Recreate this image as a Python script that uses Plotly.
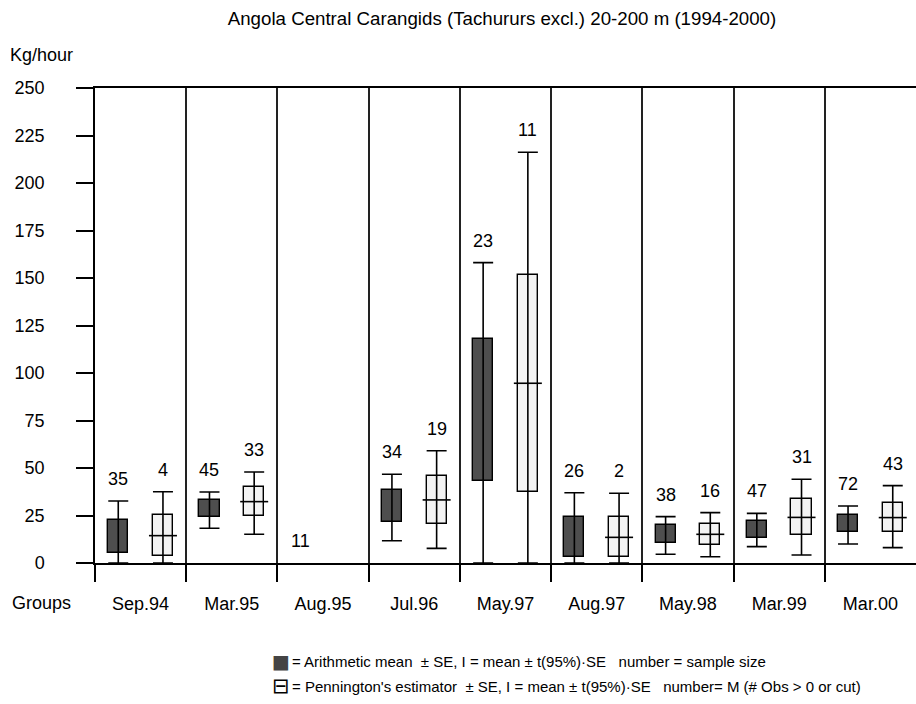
import plotly.graph_objects as go

# Survey groups
groups = ["Sep.94", "Mar.95", "Aug.95", "Jul.96", "May.97", "Aug.97", "May.98", "Mar.99", "Mar.00"]

# Arithmetic mean: mean, SE, 95% interval bounds, sample size
arith_mean = [14.0, 28.6, 0.0, 29.9, 80.5, 13.5, 15.1, 17.8, 20.8]
arith_se = [8.6, 4.6, 0.0, 8.5, 37.3, 10.5, 4.7, 4.5, 4.55]
arith_lo = [0.0, 18.3, 0.0, 11.7, 0.0, 0.0, 4.6, 8.6, 10.0]
arith_hi = [32.6, 37.4, 0.0, 46.7, 158.1, 37.0, 24.4, 26.1, 30.0]
arith_n = [35, 45, 11, 34, 23, 26, 38, 47, 72]

# Pennington's estimator: mean, SE, 95% interval bounds, M
penn_mean = [14.4, 32.3, None, 33.2, 94.6, 13.5, 15.1, 24.0, 23.9]
penn_se = [10.7, 7.55, None, 12.65, 57.0, 10.55, 5.5, 9.45, 7.55]
penn_lo = [0.0, 15.1, None, 7.7, 0.0, 0.0, 3.3, 4.2, 8.1]
penn_hi = [37.5, 47.9, None, 59.1, 216.2, 36.7, 26.5, 44.1, 40.7]
penn_m = [4, 33, None, 19, 11, 2, 16, 31, 43]

y_ticks = [0, 25, 50, 75, 100, 125, 150, 175, 200, 225, 250]

FONT = "Liberation Sans"
OFF = 0.245
BW = 0.22

xs_a = [i - OFF for i in range(len(groups))]
xs_p = [i + OFF for i in range(len(groups))]

fig = go.Figure()

# Arithmetic mean: whiskers drawn first, box on top
a_idx = [i for i, s in enumerate(arith_se) if s > 0]
fig.add_trace(go.Scatter(
    x=[xs_a[i] for i in a_idx], y=[arith_mean[i] for i in a_idx], mode="markers",
    marker=dict(size=1, color="black", opacity=0),
    error_y=dict(type="data", symmetric=False,
                 array=[arith_hi[i] - arith_mean[i] for i in a_idx],
                 arrayminus=[arith_mean[i] - arith_lo[i] for i in a_idx],
                 color="black", thickness=1.6, width=10),
    showlegend=False, hoverinfo="skip"))
fig.add_trace(go.Bar(
    x=[xs_a[i] for i in a_idx], y=[2 * arith_se[i] for i in a_idx],
    base=[arith_mean[i] - arith_se[i] for i in a_idx],
    width=BW, marker=dict(color="#4e4e4e", line=dict(color="black", width=1.4)),
    showlegend=False, hoverinfo="skip"))

# Pennington's estimator: box first, whiskers and mean line on top
p_idx = [i for i, v in enumerate(penn_mean) if v is not None]
fig.add_trace(go.Bar(
    x=[xs_p[i] for i in p_idx], y=[2 * penn_se[i] for i in p_idx],
    base=[penn_mean[i] - penn_se[i] for i in p_idx],
    width=BW, marker=dict(color="#f3f3f3", line=dict(color="black", width=1.4)),
    showlegend=False, hoverinfo="skip"))
fig.add_trace(go.Scatter(
    x=[xs_p[i] for i in p_idx], y=[penn_mean[i] for i in p_idx], mode="markers",
    marker=dict(symbol="line-ew", size=20, line=dict(color="black", width=1.6)),
    error_y=dict(type="data", symmetric=False,
                 array=[penn_hi[i] - penn_mean[i] for i in p_idx],
                 arrayminus=[penn_mean[i] - penn_lo[i] for i in p_idx],
                 color="black", thickness=1.6, width=10),
    showlegend=False, hoverinfo="skip"))

annotations = []
for i, n in enumerate(arith_n):
    annotations.append(dict(x=xs_a[i], y=arith_hi[i], text=str(n), showarrow=False,
                            yanchor="middle", yshift=22,
                            font=dict(family=FONT, size=18, color="black")))
for i, m in enumerate(penn_m):
    if m is None:
        continue
    annotations.append(dict(x=xs_p[i], y=penn_hi[i], text=str(m), showarrow=False,
                            yanchor="middle", yshift=22,
                            font=dict(family=FONT, size=18, color="black")))

PW = 821.0
PH = 475.0
def px(x):
    return (x - 95) / PW
def py(y):
    return (563 - y) / PH

annotations += [
    dict(xref="paper", yref="paper", x=px(8), y=py(55), text="Kg/hour",
         xanchor="left", yanchor="middle", showarrow=False,
         font=dict(family=FONT, size=18, color="black")),
    dict(xref="paper", yref="paper", x=px(10), y=py(603), text="Groups",
         xanchor="left", yanchor="middle", showarrow=False,
         font=dict(family=FONT, size=18, color="black")),
    # key symbols
    dict(xref="paper", yref="paper", x=px(281), y=py(661), text="■",
         xanchor="center", yanchor="middle", showarrow=False,
         font=dict(family="DejaVu Sans", size=19, color="#444444")),
    dict(xref="paper", yref="paper", x=px(281), y=py(686), text="⊟",
         xanchor="center", yanchor="middle", showarrow=False,
         font=dict(family="DejaVu Sans", size=21, color="black")),
    # key texts
    dict(xref="paper", yref="paper", x=px(290), y=py(661),
         text="= Arithmetic mean \u00a0± SE, I = mean ± t(95%)·SE \u00a0\u00a0number = sample size",
         xanchor="left", yanchor="middle", showarrow=False,
         font=dict(family=FONT, size=15, color="black")),
    dict(xref="paper", yref="paper", x=px(290), y=py(686),
         text="= Pennington's estimator \u00a0± SE, I = mean ± t(95%)·SE \u00a0\u00a0number= M (# Obs > 0 or cut)",
         xanchor="left", yanchor="middle", showarrow=False,
         font=dict(family=FONT, size=15, color="black")),
]

fig.update_layout(
    width=916, height=704,
    margin=dict(l=95, r=0, t=88, b=141),
    paper_bgcolor="white", plot_bgcolor="white",
    barmode="overlay", bargap=0,
    title=dict(text="Angola Central Carangids (Tachururs excl.) 20-200 m (1994-2000)",
               x=502 / 916, xanchor="center", xref="container",
               y=1 - 18 / 704, yanchor="middle", yref="container",
               font=dict(family=FONT, size=18.7, color="black")),
    annotations=annotations,
    xaxis=dict(range=[-0.5, 8.5], tickvals=list(range(len(groups))), ticktext=groups,
               ticks="", ticklabelstandoff=23,
               tickfont=dict(family=FONT, size=18, color="black"),
               showline=True, linecolor="black", linewidth=2, mirror=True,
               showgrid=False, zeroline=False,
               minor=dict(tickvals=[k - 0.5 for k in range(len(groups))], ticks="outside",
                          ticklen=17, tickwidth=1.5, tickcolor="black",
                          showgrid=True, gridcolor="#222222", gridwidth=1.5)),
    yaxis=dict(range=[0, 250], tickvals=y_ticks, ticks="outside", ticklen=17,
               tickwidth=1.5, tickcolor="black", ticklabelstandoff=28,
               tickfont=dict(family=FONT, size=18, color="black"),
               showline=True, linecolor="black", linewidth=1.5,
               showgrid=False, zeroline=False),
)

fig.write_html("out.html")
